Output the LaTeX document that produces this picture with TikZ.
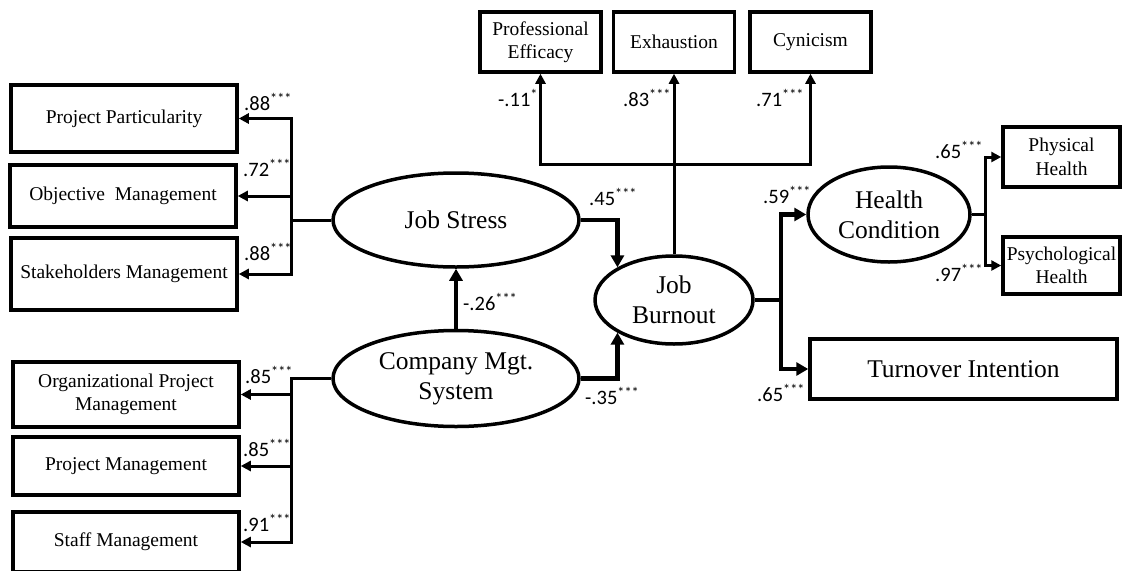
\documentclass[tikz,border=0pt]{standalone}
\usepackage{fontspec}
\setmainfont{Liberation Serif}
\newfontfamily\coeffont{Carlito}
\usetikzlibrary{arrows.meta,positioning,calc,shapes.geometric}
\tikzset{
  % Observed indicator: boxed label
  obsbox/.style={draw, rectangle, line width=3.5pt, align=center, inner sep=2pt,
                 minimum width=226pt, minimum height=60pt,
                 font=\fontsize{19.5}{23.5}\selectfont},
  obsbox-top/.style={obsbox, minimum width=121pt},
  obsbox-side/.style={obsbox, minimum width=117pt},
  obsbox-big/.style={obsbox, minimum width=307pt, font=\fontsize{25.5}{30}\selectfont},
  % Latent construct: ellipse
  latent/.style={draw, ellipse, line width=3.5pt, align=center, inner sep=0pt,
                 font=\fontsize{25.5}{30}\selectfont},
  % Arrows
  loadline/.style={line width=3pt},
  loadarr/.style={loadline, -{Triangle[length=10pt,width=10pt]}},
  pathline/.style={line width=4.5pt},
  patharr/.style={pathline, -{Triangle[length=12pt,width=13pt]}},
  % Coefficient labels
  coef/.style={font=\coeffont\fontsize{20.5}{23}\selectfont, inner sep=0pt, anchor=west}
}
\newcommand{\sig}[2]{#1\textsuperscript{#2}}

\begin{document}
\begin{tikzpicture}[x=1pt,y=-1pt]
\useasboundingbox (0,0) rectangle (1123,570);

% ============== LEFT: Job Stress indicators ==============
\node[obsbox, minimum height=67pt] (pp) at (124,118.5) {Project Particularity};
\node[obsbox, minimum height=62pt] (om) at (123,196) {Objective\ \ Management};
\node[obsbox, minimum height=72pt] (sm) at (124,274) {Stakeholders Management};

% ============== LEFT: Company Mgt. System indicators ==============
\node[obsbox, minimum height=65pt] (opm) at (126,394.5) {Organizational Project\\Management};
\node[obsbox, minimum height=58pt] (pm) at (126,466) {Project Management};
\node[obsbox, minimum height=60pt] (stm) at (126,542) {Staff Management};

% ============== MIDDLE: latent constructs ==============
\node[latent, minimum width=246pt, minimum height=94pt] (js) at (456,220) {Job Stress};
\node[latent, minimum width=246pt, minimum height=96pt] (cms) at (456,378.5) {Company Mgt.\\System};
\node[latent, minimum width=158pt, minimum height=88pt] (jb) at (674,300) {Job\\Burnout};
\node[latent, minimum width=162pt, minimum height=95pt] (hc) at (889,214.5) {Health\\Condition};

% ============== TOP: Job Burnout indicators ==============
\node[obsbox-top] (ex) at (674,42) {Exhaustion};
\node[obsbox-top, left=9pt of ex] (pe) {Professional\\Efficacy};
\node[obsbox-top, right=12pt of ex] (cy) {Cynicism};

% ============== RIGHT: outcomes ==============
\node[obsbox-side] (ph) at (1061.5,157) {Physical\\Health};
\node[obsbox-side, minimum height=57pt] (psh) at (1061.5,265.5) {Psychological\\Health};
\node[obsbox-big] (ti) at (963.5,369) {Turnover Intention};

% ============== Loadings of Job Stress ==============
\draw[loadline] (js.west) -- ++(-40,0) coordinate (jsfork);
\draw[loadarr] (jsfork) |- (pp.east);
\draw[loadarr] (jsfork) |- (om.east);
\draw[loadarr] (jsfork) |- (sm.east);

% ============== Loadings of Company Mgt. System ==============
\draw[loadarr] (cms.west) -- ++(-40,0) coordinate (cmsfork) |- (opm.east);
\draw[loadarr] (cmsfork) |- (pm.east);
\draw[loadarr] (cmsfork) |- (stm.east);

% ============== Structural paths ==============
\draw[patharr] (cms) -- (js);
\draw[patharr] (js.east) -| (jb.150);
\draw[patharr] (cms.east) -| (jb.210);

% ============== Loadings of Job Burnout ==============
\coordinate (burnfork) at (jb.north |- 0,164);
\draw[loadarr] (jb.north) -- (ex.south);
\draw[loadarr] (burnfork) -| (pe.south);
\draw[loadarr] (burnfork) -| (cy.south);

% ============== Outcomes of Job Burnout ==============
\draw[pathline] (jb.east) -- ++(26,0) coordinate (outfork);
\draw[patharr] (outfork) |- (hc.west);
\draw[patharr] (outfork) |- (ti.west);

% ============== Loadings of Health Condition ==============
\draw[loadline] (hc.east) -- ++(14,0) coordinate (hcfork);
\draw[loadarr] (hcfork) |- (ph.west);
\draw[loadarr] (hcfork) |- (psh.west);

% ============== Coefficients ==============
\node[coef] (cpp) at (244,102) {\sig{.88}{***}};
\node[coef] (com) at (243,168) {\sig{.72}{***}};
\node[coef] (csm) at (244,252) {\sig{.88}{***}};
\node[coef] (copm) at (245,375) {\sig{.85}{***}};
\node[coef] (cpm) at (243,448) {\sig{.85}{***}};
\node[coef] (cstm) at (243,523) {\sig{.91}{***}};
\node[coef] (cjs) at (463,302) {\sig{-.26}{***}};
\node[coef] (cstress) at (589,197) {\sig{.45}{***}};
\node[coef] (csys) at (585,396) {\sig{-.35}{***}};
\node[coef] (cpe) at (498,98) {\sig{-.11}{*}};
\node[coef] (cex) at (623,98) {\sig{.83}{***}};
\node[coef] (ccy) at (756,98) {\sig{.71}{***}};
\node[coef] (chc) at (763,195) {\sig{.59}{***}};
\node[coef] (cti) at (757,393) {\sig{.65}{***}};
\node[coef] (cph) at (935,150) {\sig{.65}{***}};
\node[coef] (cpsh) at (935,273) {\sig{.97}{***}};

\end{tikzpicture}
\end{document}
